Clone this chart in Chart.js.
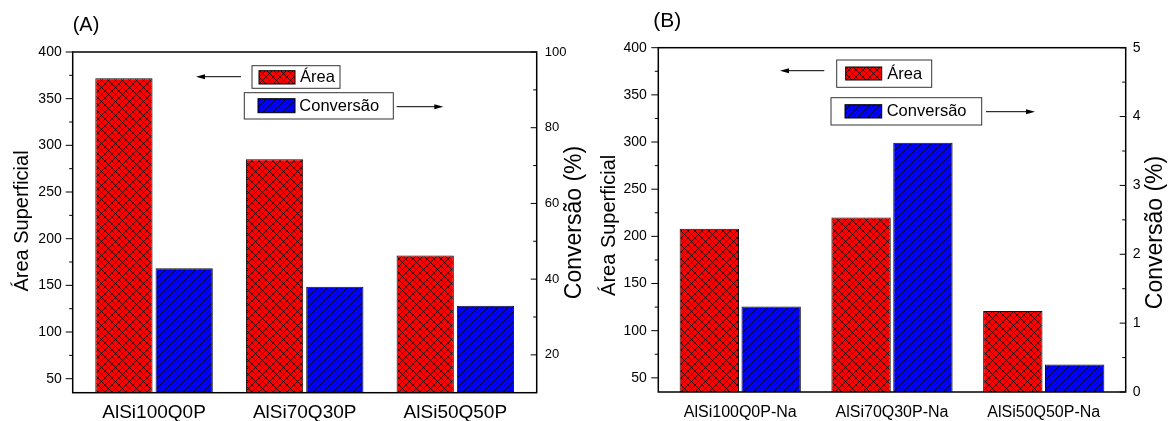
<!DOCTYPE html>
<html>
<head>
  <meta charset="utf-8">
  <title>Área Superficial e Conversão</title>
  <script src="https://cdn.jsdelivr.net/npm/chart.js"></script>
  <style>
    body { margin: 0; background: #fff; }
    #wrap { position: relative; width: 1168px; height: 421px; }
    canvas { position: absolute; top: 0; }
  </style>
</head>
<body>
<div id="wrap">
  <canvas id="chartA" width="590" height="421" style="left:0"></canvas>
  <canvas id="chartB" width="578" height="421" style="left:590px"></canvas>
</div>

<script>
  // (A) amostras sem sódio
  const categoriesA = ['AlSi100Q0P', 'AlSi70Q30P', 'AlSi50Q50P'];
  const areaA = [372, 285, 182];
  const conversionA = [42.9, 38, 33];
  const areaTicksA = [50, 100, 150, 200, 250, 300, 350, 400];
  const convTicksA = [20, 40, 60, 80, 100];

  // (B) amostras trocadas com Na
  const categoriesB = ['AlSi100Q0P-Na', 'AlSi70Q30P-Na', 'AlSi50Q50P-Na'];
  const areaB = [208, 220, 121];
  const conversionB = [1.24, 3.62, 0.4];
  const areaTicksB = [50, 100, 150, 200, 250, 300, 350, 400];
  const convTicksB = [0, 1, 2, 3, 4, 5];

  const FONT = '"Liberation Sans", Arial, sans-serif';

  // red fill with black diamond cross-hatch
  function makeCrosshatch() {
    const s = 7;
    const c = document.createElement('canvas');
    c.width = s; c.height = s;
    const g = c.getContext('2d');
    g.fillStyle = '#ff0000';
    g.fillRect(0, 0, s, s);
    g.strokeStyle = '#000';
    g.lineWidth = 0.75;
    g.beginPath();
    for (let k = -s; k <= s; k += s) {
      g.moveTo(k - 1, -1); g.lineTo(k + s + 1, s + 1);
      g.moveTo(k - 1, s + 1); g.lineTo(k + s + 1, -1);
    }
    g.stroke();
    return g.createPattern(c, 'repeat');
  }

  // blue fill with "/" hatch
  function makeHatch() {
    const s = 10, p = 5;
    const c = document.createElement('canvas');
    c.width = s; c.height = s;
    const g = c.getContext('2d');
    g.fillStyle = '#0000ff';
    g.fillRect(0, 0, s, s);
    g.strokeStyle = '#000';
    g.lineWidth = 0.8;
    g.beginPath();
    for (let x0 = -s; x0 <= s; x0 += p) {
      g.moveTo(x0, s); g.lineTo(x0 + s, 0);
    }
    g.stroke();
    return g.createPattern(c, 'repeat');
  }

  const redPattern = makeCrosshatch();
  const bluePattern = makeHatch();

  function drawArrow(ctx, x1, x2, y) {
    const dir = Math.sign(x2 - x1);
    ctx.beginPath();
    ctx.moveTo(x1, y);
    ctx.lineTo(x2 - dir * 6, y);
    ctx.stroke();
    ctx.beginPath();
    ctx.moveTo(x2, y);
    ctx.lineTo(x2 - dir * 9, y - 2.5);
    ctx.lineTo(x2 - dir * 9, y + 2.5);
    ctx.closePath();
    ctx.fill();
  }

  function legendBox(ctx, box, sw, pattern, text, tx, ty, size) {
    ctx.fillStyle = '#fff';
    ctx.fillRect(box[0], box[1], box[2], box[3]);
    ctx.strokeStyle = '#333';
    ctx.lineWidth = 1;
    ctx.strokeRect(box[0], box[1], box[2], box[3]);
    ctx.fillStyle = pattern;
    ctx.fillRect(sw[0], sw[1], sw[2], sw[3]);
    ctx.strokeStyle = '#000';
    ctx.strokeRect(sw[0], sw[1], sw[2], sw[3]);
    ctx.fillStyle = '#000';
    ctx.font = size + 'px ' + FONT;
    ctx.textAlign = 'left';
    ctx.textBaseline = 'middle';
    ctx.fillText(text, tx, ty);
  }

  function vText(ctx, text, x, y, size) {
    ctx.save();
    ctx.translate(x, y);
    ctx.rotate(-Math.PI / 2);
    ctx.font = size + 'px ' + FONT;
    ctx.textAlign = 'center';
    ctx.textBaseline = 'alphabetic';
    ctx.fillStyle = '#000';
    ctx.fillText(text, 0, 0);
    ctx.restore();
  }

  // frame, tick marks, titles, legend boxes and arrows
  function framePlugin(s, leftTicks, rightTicks) {
    return {
      id: 'frame',
      afterDraw(chart) {
        const ctx = chart.ctx;
        const a = chart.chartArea;
        const yl = chart.scales.y, yr = chart.scales.y2;
        ctx.save();
        ctx.strokeStyle = '#000';
        ctx.lineWidth = 1.5;
        ctx.strokeRect(a.left, a.top, a.right - a.left, a.bottom - a.top);

        ctx.lineWidth = 1;
        ctx.beginPath();
        leftTicks.forEach((v, i) => {
          const p = yl.getPixelForValue(v);
          ctx.moveTo(a.left - 7, p); ctx.lineTo(a.left, p);
          if (i > 0) {
            const m = yl.getPixelForValue((v + leftTicks[i - 1]) / 2);
            ctx.moveTo(a.left - 3.5, m); ctx.lineTo(a.left, m);
          }
        });
        rightTicks.forEach((v, i) => {
          const p = yr.getPixelForValue(v);
          ctx.moveTo(a.right - 6, p); ctx.lineTo(a.right, p);
          if (i > 0) {
            const m = yr.getPixelForValue((v + rightTicks[i - 1]) / 2);
            ctx.moveTo(a.right - 3.5, m); ctx.lineTo(a.right, m);
          }
        });
        ctx.stroke();

        ctx.fillStyle = '#000';
        ctx.font = s.titleSize + 'px ' + FONT;
        ctx.textAlign = 'left';
        ctx.textBaseline = 'alphabetic';
        ctx.fillText(s.title, s.titleX, s.titleY);

        vText(ctx, 'Área Superficial', s.leftTitle[0], s.leftTitle[1], 20);
        vText(ctx, 'Conversão (%)', s.rightTitle[0], s.rightTitle[1], 23);

        legendBox(ctx, s.box1, s.sw1, redPattern, 'Área', s.txt1[0], s.txt1[1], s.legendSize);
        legendBox(ctx, s.box2, s.sw2, bluePattern, 'Conversão', s.txt2[0], s.txt2[1], s.legendSize);

        ctx.strokeStyle = '#000';
        ctx.fillStyle = '#000';
        ctx.lineWidth = 1;
        drawArrow(ctx, s.arrow1[0], s.arrow1[1], s.arrow1[2]);
        drawArrow(ctx, s.arrow2[0], s.arrow2[1], s.arrow2[2]);
        ctx.restore();
      }
    };
  }

  function makeChart(id, categories, area, conversion, leftTicks, rightTicks, s) {
    const ctx = document.getElementById(id).getContext('2d');
    return new Chart(ctx, {
      type: 'bar',
      data: {
        datasets: [
          {
            label: 'Área',
            data: area.map((v, i) => ({ x: i, y: v })),
            backgroundColor: redPattern,
            borderColor: '#111',
            borderWidth: 1,
            yAxisID: 'y',
            categoryPercentage: s.catPct,
            barPercentage: s.barPct
          },
          {
            label: 'Conversão',
            data: conversion.map((v, i) => ({ x: i, y: v })),
            backgroundColor: bluePattern,
            borderColor: '#111',
            borderWidth: 1,
            yAxisID: 'y2',
            categoryPercentage: s.catPct,
            barPercentage: s.barPct
          }
        ]
      },
      options: {
        responsive: false,
        animation: false,
        layout: { autoPadding: false, padding: { top: s.top, left: 0, right: 0, bottom: 0 } },
        plugins: { legend: { display: false }, tooltip: { enabled: false } },
        scales: {
          x: {
            type: 'linear',
            offset: false,
            min: -0.54,
            max: 2.54,
            grid: { display: false, drawTicks: false },
            border: { display: false },
            afterBuildTicks: sc => { sc.ticks = categories.map((c, i) => ({ value: i })); },
            afterFit: sc => { sc.height = s.xH; },
            ticks: {
              callback: v => categories[v],
              autoSkip: false,
              maxRotation: 0,
              padding: s.xPad,
              color: '#000',
              font: { family: FONT, size: s.xFont }
            }
          },
          y: {
            position: 'left',
            min: s.yMin,
            max: s.yMax,
            grid: { display: false, drawTicks: false },
            border: { display: false },
            afterBuildTicks: sc => { sc.ticks = leftTicks.map(v => ({ value: v })); },
            afterFit: sc => { sc.width = s.leftW; },
            ticks: { padding: s.yPad, color: '#000', font: { family: FONT, size: 14 } }
          },
          y2: {
            position: 'right',
            min: s.y2Min,
            max: s.y2Max,
            grid: { display: false, drawTicks: false },
            border: { display: false },
            afterBuildTicks: sc => { sc.ticks = rightTicks.map(v => ({ value: v })); },
            afterFit: sc => { sc.width = s.rightW; },
            ticks: { padding: s.y2Pad, color: '#000', font: { family: FONT, size: s.y2Font } }
          }
        }
      },
      plugins: [framePlugin(s, leftTicks, rightTicks)]
    });
  }

  makeChart('chartA', categoriesA, areaA, conversionA, areaTicksA, convTicksA, {
    top: 52, leftW: 72.7, rightW: 53.3, xH: 28.3,
    catPct: 0.80, barPct: 0.95,
    xFont: 19, xPad: 9, yPad: 11, y2Font: 13, y2Pad: 8,
    yMin: 35, yMax: 400, y2Min: 10, y2Max: 100,
    title: '(A)', titleX: 72.7, titleY: 31, titleSize: 20,
    leftTitle: [28.3, 221], rightTitle: [580.5, 222.5],
    legendSize: 16.5,
    box1: [252, 65.7, 88, 22.6], sw1: [259, 70.7, 36, 13.3], txt1: [300, 77.5],
    box2: [244.3, 92.7, 149, 26.3], sw2: [258, 98.7, 37, 14], txt2: [299.3, 106],
    arrow1: [241, 196, 76.7], arrow2: [396.7, 443.3, 106.7]
  });

  makeChart('chartB', categoriesB, areaB, conversionB, areaTicksB, convTicksB, {
    top: 47.7, leftW: 68.3, rightW: 42.3, xH: 29,
    catPct: 0.815, barPct: 0.96,
    xFont: 16, xPad: 11, yPad: 11.5, y2Font: 14, y2Pad: 7,
    yMin: 35, yMax: 400, y2Min: 0, y2Max: 5,
    title: '(B)', titleX: 63.3, titleY: 27.3, titleSize: 21,
    leftTitle: [25, 225.3], rightTitle: [571.8, 232.5],
    legendSize: 16.5,
    box1: [246.7, 60, 95, 27.3], sw1: [255.7, 67, 36, 13], txt1: [297.3, 74],
    box2: [241, 97.7, 150.7, 27.3], sw2: [255, 104.7, 36.7, 13.3], txt2: [296.7, 111.5],
    arrow1: [234.3, 190, 70.7], arrow2: [396, 445, 111.7]
  });
</script>
</body>
</html>
